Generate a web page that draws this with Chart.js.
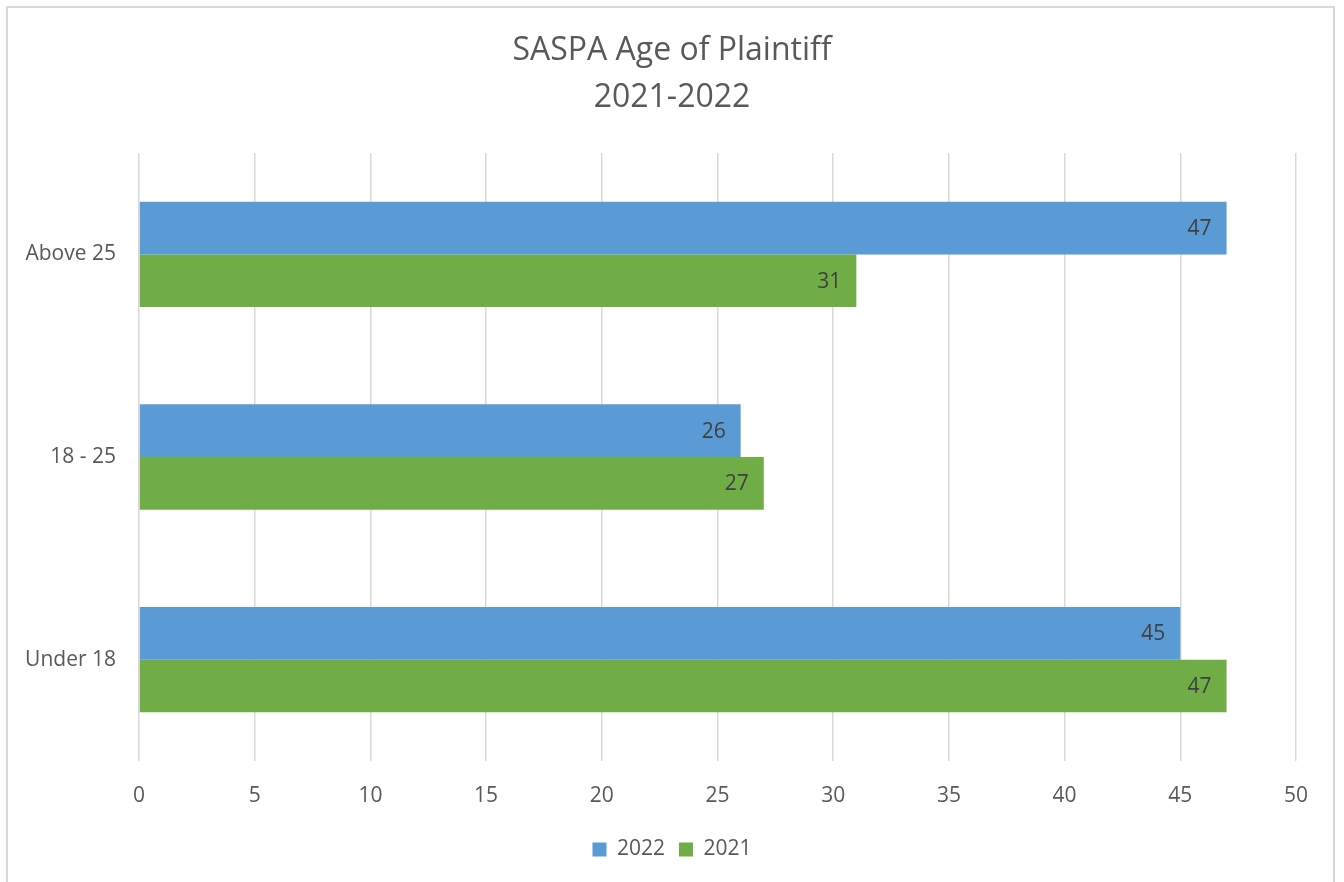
<!DOCTYPE html>
<html>
<head>
<meta charset="utf-8">
<script src="https://cdn.jsdelivr.net/npm/chart.js@4.4.1/dist/chart.umd.min.js"></script>
<style>
  html, body { margin: 0; padding: 0; background: #ffffff; }
  #frame {
    position: absolute; left: 6px; top: 6px;
    width: 1329px; height: 900px;
    border: 2px solid #d9d9d9;
    box-sizing: border-box;
  }
  #wrap { position: absolute; left: 0; top: 0; width: 1344px; height: 882px; }
</style>
</head>
<body>
<div id="frame"></div>
<div id="wrap"><canvas id="myChart" width="1344" height="882"></canvas></div>
<script>
const categories = ['Above 25', '18 - 25', 'Under 18'];
const values_2022 = [47, 26, 45];
const values_2021 = [31, 27, 47];
const tick_max = 50;
const tick_step = 5;

const font_family = "'Open Sans', 'Noto Sans', sans-serif";
const text_color = '#595959';
const grid_color = '#d9d9d9';

let context = document.getElementById('myChart');

// labels drawn inside the end of each bar
const bar_labels = {
    id: 'bar_labels',
    afterDatasetsDraw(chart) {
        const ctx = chart.ctx;
        ctx.save();
        ctx.font = '21px ' + font_family;
        ctx.fillStyle = '#404040';
        ctx.textAlign = 'right';
        ctx.textBaseline = 'middle';
        chart.data.datasets.forEach((ds, i) => {
            chart.getDatasetMeta(i).data.forEach((bar, j) => {
                ctx.fillText(String(ds.data[j]), bar.x - 15, bar.y + 1);
            });
        });
        ctx.restore();
    }
};

const data = {
    labels: categories,
    datasets: [{
        label: '2022',
        data: values_2022,
        backgroundColor: '#5b9bd5'
    }, {
        label: '2021',
        data: values_2021,
        backgroundColor: '#70ad47'
    }]
};

const options = {
    indexAxis: 'y',
    responsive: false,
    animation: { duration: 0 },
    layout: {
        padding: { left: 0, right: 0, top: 0, bottom: 12 }
    },
    datasets: {
        bar: {
            categoryPercentage: 0.52,
            barPercentage: 1.0
        }
    },
    scales: {
        x: {
            min: 0,
            max: tick_max,
            ticks: {
                stepSize: tick_step,
                color: text_color,
                padding: 22,
                font: { family: font_family, size: 21 }
            },
            grid: {
                color: grid_color,
                lineWidth: 1.5,
                drawTicks: false
            },
            border: { display: false },
            afterFit: (scale) => { scale.height = 64; }
        },
        y: {
            ticks: {
                color: text_color,
                padding: 23,
                font: { family: font_family, size: 21 }
            },
            grid: { display: false, drawTicks: false },
            border: { display: false },
            afterFit: (scale) => { scale.width = 139; }
        },
        // empty right-hand spacer so the title and legend stay centred on the page
        spacer: {
            type: 'linear',
            position: 'right',
            axis: 'y',
            ticks: { display: false },
            grid: { display: false, drawTicks: false },
            border: { display: false },
            afterFit: (scale) => { scale.width = 48; }
        }
    },
    plugins: {
        title: {
            display: true,
            text: ['SASPA Age of Plaintiff', '2021-2022'],
            color: text_color,
            font: { family: font_family, size: 32, weight: 'normal', lineHeight: 1.47 },
            padding: { top: 27, bottom: 32 }
        },
        legend: {
            display: true,
            position: 'bottom',
            labels: {
                color: text_color,
                boxWidth: 14,
                boxHeight: 14,
                padding: 14,
                font: { family: font_family, size: 21 }
            }
        },
        tooltip: { enabled: false }
    }
};

const chart = new Chart(context, {
    type: 'bar',
    data: data,
    options: options,
    plugins: [bar_labels]
});
</script>
</body>
</html>
